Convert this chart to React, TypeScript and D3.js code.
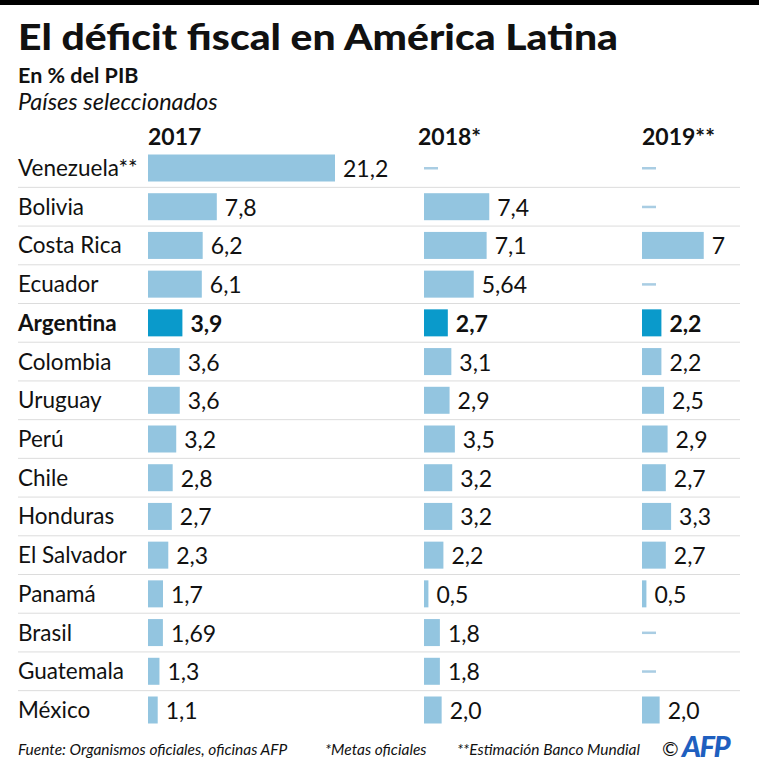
import * as d3 from 'd3';

const countries = ['Venezuela**', 'Bolivia', 'Costa Rica', 'Ecuador', 'Argentina', 'Colombia', 'Uruguay', 'Perú', 'Chile', 'Honduras', 'El Salvador', 'Panamá', 'Brasil', 'Guatemala', 'México'];
const years = ['2017', '2018*', '2019**'];
// valores como aparecen en el gráfico (null = sin dato)
const v2017 = ['21,2', '7,8', '6,2', '6,1', '3,9', '3,6', '3,6', '3,2', '2,8', '2,7', '2,3', '1,7', '1,69', '1,3', '1,1'];
const v2018 = [null, '7,4', '7,1', '5,64', '2,7', '3,1', '2,9', '3,5', '3,2', '3,2', '2,2', '0,5', '1,8', '1,8', '2,0'];
const v2019 = [null, null, '7', null, '2,2', '2,2', '2,5', '2,9', '2,7', '3,3', '2,7', '0,5', null, null, '2,0'];
const highlight = 'Argentina';

const series = [v2017, v2018, v2019];
const colX = [148, 424, 642];
const font = 'Lato, "Noto Sans", sans-serif';

const toNum = (s: string | null) => (s == null ? null : +s.replace(',', '.'));

export default function App() {
  const width = 759;
  const height = 768;

  const y = d3.scalePoint<string>().domain(countries).range([168, 710]);
  const step = y.step();
  const x = d3.scaleLinear().domain([0, 21.2]).range([0, 187]);
  const barH = 27;

  return (
    <svg width={width} height={height} style={{ position: 'absolute', left: 0, top: 0, background: '#fff' }} fontFamily={font}>
      <rect x={0} y={0} width={width} height={5} fill="#000" />
      <text x={18} y={50} fontSize={36} fontWeight={900} fill="#111" textLength={600} lengthAdjust="spacingAndGlyphs">El déficit fiscal en América Latina</text>
      <text x={18} y={83} fontSize={21.5} fontWeight={700} fill="#111">En % del PIB</text>
      <text x={18} y={110} fontSize={23.5} fontStyle="italic" fill="#111">Países seleccionados</text>

      {years.map((yr, i) => (
        <text key={yr} x={colX[i] + (i === 1 ? -6 : 0)} y={145} fontSize={23} fontWeight={700} fill="#111">{yr}</text>
      ))}

      {countries.slice(0, -1).map((c) => (
        <line key={'sep' + c} x1={18} x2={740} y1={y(c)! + step / 2} y2={y(c)! + step / 2} stroke="#dcdcdc" strokeWidth={1} />
      ))}

      {countries.map((c, ri) => {
        const cy = y(c)!;
        const bold = c === highlight;
        return (
          <g key={c}>
            <text x={18} y={cy + 8} fontSize={22.5} fontWeight={bold ? 700 : 400} fill="#111">{c}</text>
            {series.map((s, si) => {
              const lab = s[ri];
              const v = toNum(lab);
              const x0 = colX[si];
              if (v == null) {
                return <rect key={si} x={x0} y={cy - 1} width={14} height={2.5} fill="#a9cde3" />;
              }
              const w = x(v);
              return (
                <g key={si}>
                  <rect x={x0} y={cy - barH / 2} width={w} height={barH} fill={bold ? '#0a9acb' : '#93c5e0'} />
                  <text x={x0 + w + 8} y={cy + 9} fontSize={23} fontWeight={bold ? 700 : 400} fill="#111">{lab}</text>
                </g>
              );
            })}
          </g>
        );
      })}

      <g fontSize={15.5} fontStyle="italic" fill="#111">
        <text x={18} y={755}>Fuente: Organismos oficiales, oficinas AFP</text>
        <text x={325} y={755}>*Metas oficiales</text>
        <text x={457} y={755}>**Estimación Banco Mundial</text>
        <text x={662} y={756} fontStyle="normal" fontSize={20}>©</text>
        <text x={682} y={757} fontStyle="italic" fontWeight={900} fontSize={29} fill="#1f5fbf" letterSpacing={-1.5}>AFP</text>
      </g>
    </svg>
  );
}
